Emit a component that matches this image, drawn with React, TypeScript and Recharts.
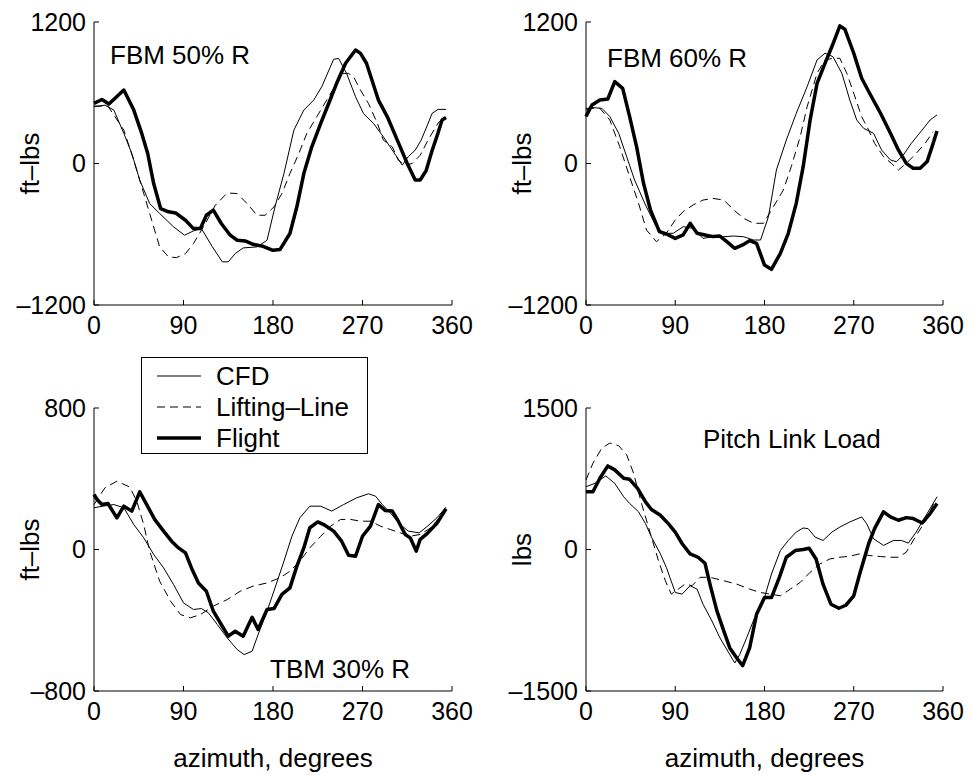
import React from "react";
import { LineChart, Line, XAxis, YAxis } from "recharts";

const AZ_TICKS = [0, 90, 180, 270, 360];

// FBM 50% R
const FBM50_CFD_AZ = [0, 11, 20, 30, 38, 46, 56, 66, 80, 91, 100, 108, 119, 129, 135, 142, 150, 164, 174, 182, 191, 201, 211, 221, 229, 241, 246, 254, 263, 271, 281, 291, 300, 310, 316, 323, 329, 335, 340, 346, 354];
const FBM50_CFD = [481, 495, 453, 255, 85, -141, -340, -424, -537, -608, -572, -552, -706, -834, -834, -764, -716, -707, -651, -368, -85, 283, 453, 538, 651, 884, 891, 764, 566, 424, 340, 226, 113, -14, 58, 113, 199, 320, 425, 459, 459];
const FBM50_LL_AZ = [0, 14, 30, 40, 50, 58, 66, 75, 83, 92, 100, 110, 122, 134, 144, 154, 164, 172, 181, 189, 197, 206, 214, 224, 236, 244, 249, 256, 261, 268, 276, 285, 291, 300, 306, 313, 320, 328, 336, 346, 352];
const FBM50_LL = [487, 487, 283, 28, -255, -481, -707, -793, -798, -764, -679, -538, -354, -250, -255, -340, -439, -439, -368, -255, -85, 85, 255, 396, 566, 679, 764, 764, 736, 622, 509, 340, 198, 141, 28, -14, 0, 70, 200, 343, 394];
const FBM50_FLT_AZ = [0, 8, 15, 30, 40, 48, 54, 60, 67, 75, 82, 92, 100, 107, 113, 120, 128, 137, 144, 152, 160, 170, 180, 187, 197, 204, 211, 219, 228, 236, 244, 253, 263, 268, 274, 286, 295, 305, 315, 323, 328, 334, 340, 346, 350, 354];
const FBM50_FLT = [510, 543, 504, 623, 453, 255, 85, -170, -382, -410, -419, -481, -552, -552, -439, -396, -509, -608, -651, -657, -685, -702, -736, -730, -594, -367, -85, 141, 340, 509, 680, 850, 962, 934, 850, 538, 396, 198, 0, -140, -140, -60, 110, 260, 369, 390];

// FBM 60% R
const FBM60_CFD_AZ = [0, 7, 16, 24, 33, 41, 49, 60, 70, 78, 88, 98, 108, 118, 128, 139, 149, 159, 169, 176, 184, 192, 202, 212, 223, 233, 241, 249, 258, 266, 273, 280, 290, 298, 307, 313, 320, 328, 339, 347, 354];
const FBM60_CFD = [454, 474, 468, 398, 256, 58, -140, -352, -522, -592, -592, -536, -550, -635, -621, -621, -615, -621, -649, -649, -451, -55, 199, 425, 652, 878, 935, 906, 765, 539, 369, 298, 256, 115, 30, 15, 72, 171, 284, 369, 412];
const FBM60_LL_AZ = [0, 14, 24, 34, 44, 53, 61, 71, 81, 90, 98, 108, 118, 128, 139, 149, 159, 169, 179, 189, 199, 207, 216, 223, 233, 241, 249, 256, 263, 270, 278, 285, 291, 300, 308, 315, 323, 333, 342, 350];
const FBM60_LL = [468, 468, 369, 143, -112, -338, -564, -663, -592, -479, -408, -352, -310, -296, -310, -394, -465, -507, -507, -366, -225, -27, 228, 482, 765, 878, 892, 892, 765, 595, 397, 284, 171, 58, 1, -55, 1, 86, 171, 270];
const FBM60_FLT_AZ = [0, 6, 14, 22, 29, 37, 44, 51, 58, 65, 74, 81, 90, 98, 105, 112, 120, 128, 135, 142, 150, 158, 165, 172, 180, 187, 196, 204, 212, 219, 226, 233, 241, 248, 256, 261, 270, 278, 286, 297, 307, 315, 323, 330, 337, 344, 349, 354];
const FBM60_FLT = [398, 496, 538, 547, 694, 637, 398, 143, -168, -394, -578, -598, -635, -606, -507, -592, -606, -620, -615, -663, -719, -691, -654, -677, -861, -898, -762, -592, -338, -27, 369, 680, 850, 992, 1167, 1139, 935, 723, 596, 426, 256, 115, 1, -41, -41, 16, 143, 276];

// TBM 30% R
const TBM30_CFD_AZ = [0, 9, 20, 30, 40, 50, 60, 70, 80, 90, 100, 108, 115, 124, 134, 144, 151, 159, 165, 174, 182, 191, 199, 207, 217, 228, 239, 251, 264, 276, 283, 290, 298, 308, 316, 327, 335, 345, 354];
const TBM30_CFD = [236, 245, 254, 236, 141, 66, -28, -104, -198, -302, -339, -334, -358, -424, -500, -566, -594, -575, -481, -349, -217, -66, 75, 179, 245, 245, 217, 254, 292, 315, 302, 254, 207, 141, 104, 94, 130, 180, 240];
const TBM30_LL_AZ = [0, 11, 23, 36, 43, 50, 56, 66, 77, 87, 97, 107, 120, 134, 147, 160, 174, 187, 197, 207, 217, 228, 238, 248, 258, 268, 278, 288, 298, 308, 318, 328, 338, 346, 354];
const TBM30_LL = [254, 349, 386, 353, 273, 141, -9, -179, -292, -368, -386, -368, -320, -283, -236, -207, -189, -160, -123, -66, 9, 75, 132, 170, 170, 160, 160, 132, 113, 94, 75, 85, 120, 170, 230];
const TBM30_FLT_AZ = [0, 3, 8, 14, 23, 30, 38, 46, 53, 61, 70, 78, 85, 92, 98, 105, 113, 120, 129, 135, 142, 150, 159, 165, 174, 181, 189, 197, 204, 211, 217, 225, 231, 241, 249, 256, 263, 270, 278, 286, 293, 300, 306, 313, 318, 324, 328, 335, 345, 354];
const TBM30_FLT = [311, 283, 254, 260, 179, 245, 217, 326, 254, 170, 104, 47, 9, -19, -104, -189, -236, -349, -434, -490, -462, -490, -383, -452, -339, -334, -254, -217, -94, 9, 123, 156, 141, 104, 47, -32, -38, 75, 132, 254, 220, 217, 160, 85, 66, -9, 57, 90, 150, 230];

// Pitch Link Load
const PLL_CFD_AZ = [0, 9, 20, 29, 38, 44, 53, 60, 66, 75, 81, 90, 97, 105, 112, 118, 127, 135, 144, 150, 155, 162, 170, 179, 187, 196, 204, 212, 219, 224, 231, 239, 248, 256, 266, 278, 283, 290, 300, 310, 318, 325, 333, 344, 354];
const PLL_CFD = [666, 701, 780, 701, 559, 488, 399, 274, 132, -46, -189, -456, -473, -384, -420, -580, -758, -936, -1096, -1203, -1114, -936, -723, -545, -260, -11, 96, 185, 228, 221, 132, 96, 185, 238, 292, 345, 274, 114, 43, 96, 96, 68, 185, 381, 559];
const PLL_LL_AZ = [0, 7, 16, 24, 33, 41, 48, 56, 65, 73, 80, 86, 93, 100, 107, 115, 125, 139, 152, 165, 176, 186, 196, 206, 216, 226, 236, 246, 256, 266, 276, 286, 297, 307, 315, 323, 333, 344, 352];
const PLL_LL = [737, 915, 1075, 1128, 1100, 1004, 808, 488, 167, -117, -331, -473, -420, -367, -384, -295, -295, -331, -367, -420, -456, -473, -491, -420, -349, -242, -153, -100, -82, -71, -46, -64, -75, -82, -82, -28, 150, 328, 523];
const PLL_FLT_AZ = [0, 7, 14, 22, 29, 38, 44, 52, 60, 66, 75, 83, 90, 97, 105, 113, 120, 125, 132, 139, 145, 152, 158, 165, 172, 180, 187, 195, 202, 211, 219, 225, 232, 239, 247, 255, 262, 270, 276, 285, 291, 300, 307, 315, 323, 330, 339, 347, 354];
const PLL_FLT = [612, 612, 755, 886, 844, 755, 744, 648, 505, 424, 363, 274, 185, 61, -46, -82, -146, -367, -651, -865, -1043, -1150, -1232, -1043, -687, -509, -509, -295, -82, -11, 0, 14, -100, -367, -580, -623, -591, -491, -260, 61, 221, 399, 345, 310, 338, 328, 281, 381, 488];

const FONT = '"Liberation Sans", Arial, Helvetica, sans-serif';

const zip = (az: number[], v: number[]) => az.map((a, i) => ({ az: a, v: v[i] }));

const fmtTick = (v: number) => (v < 0 ? `\u2013${Math.abs(v)}` : `${v}`);

const yLabel = (text: string) => (props: any) => {
  const vb = props.viewBox || {};
  const x = vb.x + vb.width - 64;
  const y = vb.y + vb.height / 2;
  return (
    <text x={x} y={y} dy="0.35em" textAnchor="middle" fontSize={26} fill="#000" transform={`rotate(-90 ${x} ${y})`}>
      {text}
    </text>
  );
};

const xLabel = (text: string) => (props: any) => {
  const vb = props.viewBox || {};
  return (
    <text x={vb.x + vb.width / 2} y={vb.y + 67} dy="0.35em" textAnchor="middle" fontSize={26} fill="#000">
      {text}
    </text>
  );
};

type Pt = { az: number; v: number };

function Panel(p: {
  left: number;
  top: number;
  margin: { top: number; right: number; bottom: number; left: number };
  max: number;
  ylabel: string;
  xlabel?: string;
  cfd: Pt[];
  ll: Pt[];
  flight: Pt[];
}) {
  const ticks = [-p.max, 0, p.max];
  const tick = { fontSize: 25, fill: "#000" };
  return (
    <div style={{ position: "absolute", left: p.left, top: p.top }}>
      <LineChart width={486} height={388} margin={p.margin}>
        <XAxis
          dataKey="az"
          type="number"
          domain={[0, 360]}
          ticks={AZ_TICKS}
          interval={0}
          height={60}
          tickSize={-5}
          tickMargin={16}
          tick={tick}
          stroke="#000"
          label={p.xlabel ? { content: xLabel(p.xlabel) } : undefined}
        />
        <XAxis
          xAxisId="top"
          orientation="top"
          type="number"
          domain={[0, 360]}
          ticks={AZ_TICKS}
          interval={0}
          height={0}
          tickSize={-5}
          tickFormatter={() => ""}
          stroke="#000"
        />
        <YAxis
          type="number"
          domain={[-p.max, p.max]}
          ticks={ticks}
          interval={0}
          width={60}
          tickSize={-5}
          tickMargin={13}
          tick={tick}
          tickFormatter={fmtTick}
          stroke="#000"
          label={{ content: yLabel(p.ylabel) }}
        />
        <YAxis
          yAxisId="right"
          orientation="right"
          type="number"
          domain={[-p.max, p.max]}
          ticks={ticks}
          interval={0}
          width={0}
          tickSize={-5}
          tickFormatter={() => ""}
          stroke="#000"
        />
        <Line data={p.cfd} dataKey="v" type="linear" stroke="#000" strokeWidth={1} dot={false} isAnimationActive={false} />
        <Line data={p.ll} dataKey="v" type="linear" stroke="#000" strokeWidth={1} strokeDasharray="8 5" dot={false} isAnimationActive={false} />
        <Line data={p.flight} dataKey="v" type="linear" stroke="#000" strokeWidth={3.5} strokeLinejoin="round" dot={false} isAnimationActive={false} />
      </LineChart>
    </div>
  );
}

const note = (text: string, left: number, top: number) => (
  <div style={{ position: "absolute", left, top, fontSize: 26, lineHeight: "26px", whiteSpace: "nowrap" }}>{text}</div>
);

const LEGEND = [
  { name: "CFD", width: 1, dash: undefined as string | undefined },
  { name: "Lifting\u2013Line", width: 1, dash: "8 5" },
  { name: "Flight", width: 3.5, dash: undefined },
];

export default function App() {
  const leftM = { top: 22, right: 34, bottom: 23, left: 34 };
  const rightM = { top: 22, right: 29, bottom: 23, left: 40 };
  const leftB = { top: 20, right: 34, bottom: 25, left: 34 };
  const rightB = { top: 20, right: 29, bottom: 25, left: 40 };
  return (
    <div style={{ position: "absolute", left: 0, top: 0, width: 972, height: 776, background: "#fff", fontFamily: FONT, color: "#000" }}>
      <Panel left={0} top={0} margin={leftM} max={1200} ylabel={"ft\u2013lbs"}
        cfd={zip(FBM50_CFD_AZ, FBM50_CFD)} ll={zip(FBM50_LL_AZ, FBM50_LL)} flight={zip(FBM50_FLT_AZ, FBM50_FLT)} />
      <Panel left={486} top={0} margin={rightM} max={1200} ylabel={"ft\u2013lbs"}
        cfd={zip(FBM60_CFD_AZ, FBM60_CFD)} ll={zip(FBM60_LL_AZ, FBM60_LL)} flight={zip(FBM60_FLT_AZ, FBM60_FLT)} />
      <Panel left={0} top={388} margin={leftB} max={800} ylabel={"ft\u2013lbs"} xlabel="azimuth, degrees"
        cfd={zip(TBM30_CFD_AZ, TBM30_CFD)} ll={zip(TBM30_LL_AZ, TBM30_LL)} flight={zip(TBM30_FLT_AZ, TBM30_FLT)} />
      <Panel left={486} top={388} margin={rightB} max={1500} ylabel="lbs" xlabel="azimuth, degrees"
        cfd={zip(PLL_CFD_AZ, PLL_CFD)} ll={zip(PLL_LL_AZ, PLL_LL)} flight={zip(PLL_FLT_AZ, PLL_FLT)} />

      {note("FBM 50% R", 110, 42)}
      {note("FBM 60% R", 607, 45)}
      {note("TBM 30% R", 270, 656)}
      {note("Pitch Link Load", 703, 426)}

      <div style={{ position: "absolute", left: 141, top: 357, width: 225, height: 95, border: "1px solid #000", background: "#fff" }}>
        {LEGEND.map((e, i) => (
          <div key={e.name} style={{ position: "absolute", left: 0, top: 5 + i * 31, height: 26, display: "flex", alignItems: "center", whiteSpace: "nowrap" }}>
            <svg width={74} height={26}>
              <line x1={15} x2={59} y1={13} y2={13} stroke="#000" strokeWidth={e.width} strokeDasharray={e.dash} />
            </svg>
            <span style={{ fontSize: 26, lineHeight: "26px" }}>{e.name}</span>
          </div>
        ))}
      </div>
    </div>
  );
}
